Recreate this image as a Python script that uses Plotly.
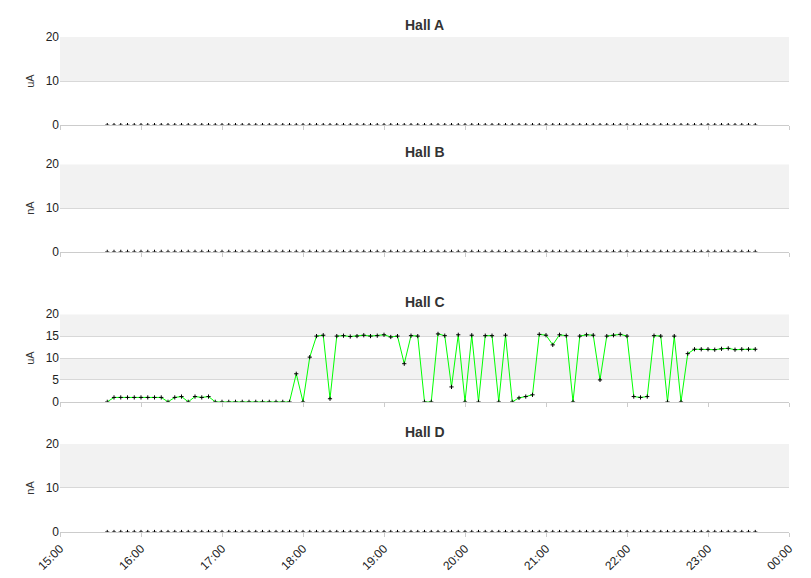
import pandas as pd
import plotly.graph_objects as go
from plotly.subplots import make_subplots

# 5-minute samples, 15:35 -> 23:35
times = pd.date_range("2024-01-01 15:35", periods=97, freq="5min")

hall_a = [0] * 97
hall_b = [0] * 97
hall_d = [0] * 97
hall_c = ([0] + [1.0] * 8 + [0, 1.0, 1.2, 0, 1.2, 1.0, 1.2] + [0] * 12
          + [6.4, 0, 10.2, 15.0, 15.2, 0.7]
          + [15.0, 15.1, 14.9, 15.0, 15.2, 15.0, 15.1, 15.3, 14.8, 15.0]
          + [8.7, 15.1, 15.0, 0, 0]
          + [15.5, 15.1, 3.4, 15.3, 0, 15.2, 0, 15.1, 15.1, 0, 15.2, 0, 0.9, 1.2, 1.6]
          + [15.4, 15.2, 13.0, 15.3, 15.1, 0, 15.0, 15.3, 15.2, 5.0, 15.0, 15.2, 15.4, 15.0]
          + [1.2, 1.0, 1.2, 15.1, 15.0, 0, 15.0, 0, 11.0]
          + [12.0, 12.0, 12.0, 11.9, 12.1, 12.2, 11.9, 12.0, 12.0, 12.0])

halls = [("Hall A", hall_a, "uA", [0, 10, 20]),
         ("Hall B", hall_b, "nA", [0, 10, 20]),
         ("Hall C", hall_c, "uA", [0, 5, 10, 15, 20]),
         ("Hall D", hall_d, "nA", [0, 10, 20])]
domains = [[0.822, 1.0], [0.566, 0.743], [0.263, 0.440], [0.0, 0.178]]

fig = make_subplots(rows=4, cols=1, shared_xaxes=True)

for i, (name, vals, unit, ticks) in enumerate(halls):
    r = i + 1
    sfx = str(r) if r > 1 else ""
    # alternating background bands
    for k in range(len(ticks) - 1):
        if (len(ticks) - 2 - k) % 2 == 0:
            fig.add_shape(type="rect", xref=f"x{sfx} domain", yref=f"y{sfx}",
                          x0=0, x1=1, y0=ticks[k], y1=ticks[k + 1],
                          fillcolor="#f2f2f2", line_width=0, layer="below")
    has_signal = any(v != 0 for v in vals)
    fig.add_trace(go.Scatter(x=times, y=vals, mode="lines+markers" if has_signal else "markers",
                             line=dict(color="#00ff00", width=1),
                             marker=dict(symbol="cross-thin", size=3, color="black",
                                         line=dict(color="black", width=1)),
                             showlegend=False), row=r, col=1)
    fig.update_yaxes(domain=domains[i], range=[0, 20], tickvals=ticks, title_text=unit,
                     title_font=dict(size=11), gridcolor="#d8d8d8", zeroline=False,
                     showline=False, automargin=False, title_standoff=8,
                     tickfont=dict(size=12, color="#222"), row=r, col=1)
    fig.add_annotation(text=f"<b>{name}</b>", x=0.5, y=domains[i][1], xref="paper", yref="paper",
                       yanchor="bottom", yshift=2, showarrow=False,
                       font=dict(size=14, color="#333"))

fig.update_xaxes(range=["2024-01-01 15:00", "2024-01-02 00:00"], dtick=3600000,
                 tickformat="%H:%M", showgrid=False, showline=True, linecolor="#cccccc",
                 layer="above traces", ticks="outside", tickcolor="#cccccc", ticklen=4,
                 automargin=False)
fig.update_xaxes(tickangle=-45, tickfont=dict(size=12, color="#222"), row=4, col=1)

fig.update_layout(width=811, height=578, plot_bgcolor="white", paper_bgcolor="white",
                  margin=dict(l=52, r=30, t=29, b=54),
                  font=dict(family="Liberation Sans, Arial", color="#333"))
fig.write_html("out.html")
